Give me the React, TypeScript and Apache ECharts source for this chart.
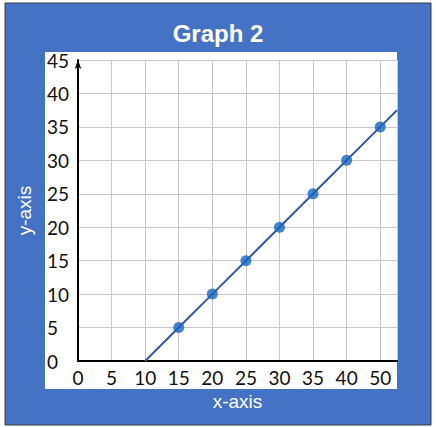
import React, { useEffect, useRef } from "react";
import * as echarts from "echarts";

const titleText = "Graph 2";
const xAxisName = "x-axis";
const yAxisName = "y-axis";
// tick labels along the x axis, one per grid step (the reference skips 45)
const xTickLabels = ["0", "5", "10", "15", "20", "25", "30", "35", "40", "50"];
const yTickValues = [0, 5, 10, 15, 20, 25, 30, 35, 40, 45];
// plotted points: x given as the tick label they sit on
const pointX = ["15", "20", "25", "30", "35", "40", "50"];
const pointY = [5, 10, 15, 20, 25, 30, 35];
// line ends: starts on the x axis at "10", runs off the right edge
const lineStart = { x: "10", y: 0 };
const lineEndY = 37.5;

const STEP = 5;
const xMax = (xTickLabels.length - 0.5) * STEP;
const pos = (label: string) => xTickLabels.indexOf(label) * STEP;

export default function App() {
  const ref = useRef<HTMLDivElement>(null);
  useEffect(() => {
    const chart = echarts.init(ref.current!, null, { renderer: "svg" });
    const pts = pointX.map((l, i) => [pos(l), pointY[i]]);
    const lineData = [[pos(lineStart.x), lineStart.y], ...pts, [xMax, lineEndY]];
    chart.setOption({
      animation: false,
      graphic: {
        elements: [
          {
            type: "rect",
            z: -10,
            shape: { x: 5, y: 3, width: 426, height: 422 },
            style: { fill: "#4472C4", stroke: "#3a3a3a", lineWidth: 1 },
            silent: true,
          },
          {
            type: "rect",
            z: -9,
            shape: { x: 45, y: 52, width: 352, height: 337 },
            style: { fill: "#ffffff" },
            silent: true,
          },
        ],
      },
      title: {
        text: titleText,
        left: "center",
        top: 16,
        textStyle: {
          color: "#ffffff",
          fontSize: 24,
          fontWeight: "bold",
          fontFamily: "Liberation Sans, Arial, sans-serif",
        },
      },
      grid: { left: 78, top: 60, right: 39, bottom: 66, containLabel: false },
      xAxis: {
        type: "value",
        min: 0,
        max: xMax,
        interval: STEP,
        name: xAxisName,
        nameLocation: "middle",
        nameGap: 30,
        nameTextStyle: {
          color: "#ffffff",
          fontSize: 19,
          fontFamily: "Liberation Sans, Arial, sans-serif",
        },
        axisLine: { show: true, lineStyle: { color: "#000000", width: 2 } },
        axisTick: { show: false },
        axisLabel: {
          color: "#111111",
          fontSize: 19,
          fontFamily: "Lato, sans-serif",
          margin: 7,
          showMaxLabel: true,
          formatter: (v: number) => {
            const i = Math.round(v / STEP);
            return Math.abs(v - i * STEP) < 1e-6 && xTickLabels[i] !== undefined ? xTickLabels[i] : "";
          },
        },
        splitLine: { show: true, lineStyle: { color: "#c8c8c8", width: 1 } },
      },
      yAxis: {
        type: "value",
        min: yTickValues[0],
        max: yTickValues[yTickValues.length - 1],
        interval: STEP,
        name: yAxisName,
        nameLocation: "middle",
        nameGap: 44,
        nameRotate: 90,
        nameTextStyle: {
          color: "#ffffff",
          fontSize: 19,
          fontFamily: "Liberation Sans, Arial, sans-serif",
        },
        axisLine: {
          show: true,
          symbol: ["none", "arrow"],
          symbolSize: [5, 9],
          lineStyle: { color: "#000000", width: 2 },
        },
        axisTick: { show: false },
        axisLabel: {
          color: "#111111",
          fontSize: 19,
          fontFamily: "Lato, sans-serif",
          align: "left",
          margin: 31,
          padding: [7, 0, 0, 0],
        },
        splitLine: { show: true, lineStyle: { color: "#c8c8c8", width: 1 } },
      },
      series: [
        {
          type: "line",
          data: lineData,
          symbol: "none",
          lineStyle: { color: "#34589F", width: 2 },
          z: 3,
        },
        {
          type: "scatter",
          data: pts,
          symbol: "circle",
          symbolSize: 11,
          itemStyle: { color: "#1565C0" },
          z: 4,
        },
      ],
    });
    return () => chart.dispose();
  }, []);
  return (
    <div
      ref={ref}
      style={{ position: "fixed", left: 0, top: 0, width: 436, height: 427, background: "#ffffff" }}
    />
  );
}
